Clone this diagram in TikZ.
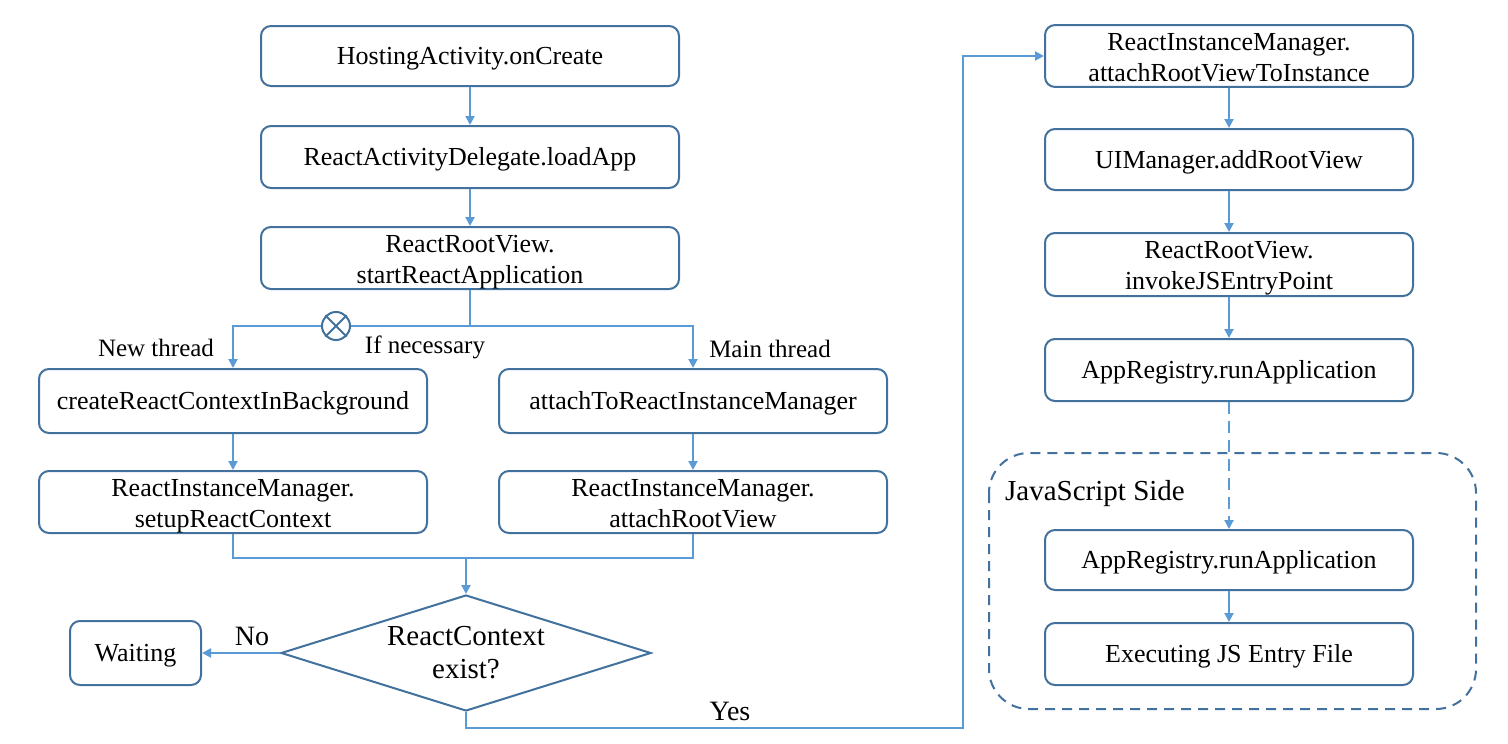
\documentclass[tikz,border=0pt]{standalone}
\usepackage{fontspec}
\setmainfont{Liberation Serif}
\usetikzlibrary{arrows.meta,shapes.geometric}
\definecolor{boxc}{HTML}{41719C}
\definecolor{arrc}{HTML}{5B9BD5}
\newcommand{\mystrut}{\rule[-0.216em]{0pt}{1.107em}}
\newcommand{\mytopstrut}{\rule[-0.216em]{0pt}{2.38em}}
\tikzset{
  box/.style={draw=boxc, line width=2pt, rounded corners=10pt, fill=white,
    inner sep=0pt, align=center, font=\fontsize{26}{31}\selectfont,
    execute at begin node=\mystrut, execute at end node=\mystrut},
  twoline/.style={execute at begin node=\mytopstrut},
  arr/.style={draw=arrc, line width=2pt, -{Triangle[length=9pt,width=9pt]}},
  ln/.style={draw=arrc, line width=2pt},
  lbl/.style={font=\fontsize{25}{30}\selectfont, inner sep=0pt},
  biglbl/.style={font=\fontsize{28}{33}\selectfont, inner sep=0pt},
}
\begin{document}
\begin{tikzpicture}[x=1pt,y=-1pt]
\useasboundingbox (0,0) rectangle (1508,744);
\fill[white] (0,0) rectangle (1508,744);
% left column
\node[box, minimum width=418pt, minimum height=60pt] (hoc) at (470,56) {HostingActivity.onCreate};
\node[box, minimum width=418pt, minimum height=62pt] (rad) at (470,157) {ReactActivityDelegate.loadApp};
\node[box, twoline, minimum width=418pt, minimum height=62pt] (rrv) at (470,258) {ReactRootView.\\startReactApplication};
\node[box, minimum width=388pt, minimum height=64pt] (crc) at (233,401) {createReactContextInBackground};
\node[box, minimum width=388pt, minimum height=64pt] (atm) at (693,401) {attachToReactInstanceManager};
\node[box, twoline, minimum width=388pt, minimum height=62pt] (src) at (233,502) {ReactInstanceManager.\\setupReactContext};
\node[box, twoline, minimum width=388pt, minimum height=62pt] (arv) at (693,502) {ReactInstanceManager.\\attachRootView};
\node[draw=boxc, line width=2pt, shape=diamond, minimum width=370pt, minimum height=116pt, inner sep=0pt, aspect=3.2, align=center, font=\fontsize{29}{33}\selectfont] (dia) at (466,653) {ReactContext\\exist?};
\node[box, minimum width=131pt, minimum height=64pt] (wait) at (135.5,653) {Waiting};
% right column
\node[box, twoline, minimum width=368pt, minimum height=60pt] (rim) at (1229,56) {ReactInstanceManager.\\attachRootViewToInstance};
\node[box, minimum width=368pt, minimum height=61pt] (uim) at (1229,159.5) {UIManager.addRootView};
\node[box, twoline, minimum width=368pt, minimum height=63pt] (ije) at (1229,264.5) {ReactRootView.\\invokeJSEntryPoint};
\node[box, minimum width=368pt, minimum height=62pt] (ara) at (1229,370) {AppRegistry.runApplication};
\draw[draw=boxc, line width=2pt, dash pattern=on 10pt off 7pt, rounded corners=40pt] (989,453) rectangle (1476,709);
\node[box, minimum width=368pt, minimum height=60pt] (ars) at (1229,560) {AppRegistry.runApplication};
\node[box, minimum width=368pt, minimum height=62pt] (exe) at (1229,654) {Executing JS Entry File};
\node[anchor=west, font=\fontsize{29}{33}\selectfont, inner sep=0pt] (jss) at (1005,494) {JavaScript Side};
% connectors left
\draw[arr] (hoc) -- (rad);
\draw[arr] (rad) -- (rrv);
\coordinate (br) at (470,326);
\draw[ln] (rrv.south) -- (br);
\draw[arr] (br) -| (crc.north);
\draw[arr] (br) -| (atm.north);
\node[circle, draw=boxc, line width=2pt, fill=white, minimum size=28pt, inner sep=0pt] (cx) at (336,326) {};
\draw[draw=boxc, line width=2pt] (cx.north east) -- (cx.south west) (cx.north west) -- (cx.south east);
\node[lbl] (lnew) at (156,348) {New thread};
\node[lbl] (lif) at (425,347) {If necessary};
\node[lbl] (lmain) at (770,349) {Main thread};
\draw[arr] (crc) -- (src);
\draw[arr] (atm) -- (arv);
\coordinate (mg) at (466,558);
\draw[ln] (src.south) |- (mg) -| (arv.south);
\draw[arr] (mg) -- (dia.north);
\draw[arr] (dia.west) -- (wait.east);
\node[biglbl] (lno) at (252,636) {No};
\coordinate (y1) at (963,728);
\draw[arr] (dia.south) |- (y1) |- (rim.west);
\node[biglbl] (lyes) at (730,711) {Yes};
% connectors right
\draw[arr] (rim) -- (uim);
\draw[arr] (uim) -- (ije);
\draw[arr] (ije) -- (ara);
\draw[arr, dash pattern=on 12pt off 7pt] (ara) -- (ars);
\draw[arr] (ars) -- (exe);
\end{tikzpicture}
\end{document}
